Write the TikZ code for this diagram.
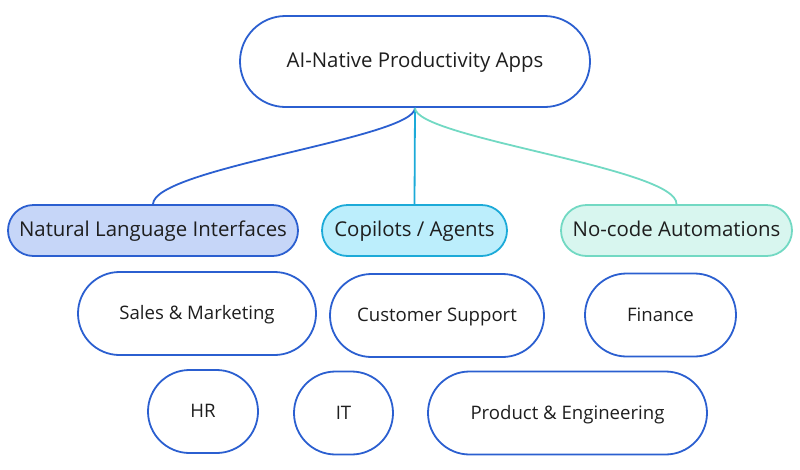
\documentclass[tikz,border=0pt]{standalone}
\usepackage{fontspec}
\setmainfont{Open Sans}
\usepackage{tikz}
\usetikzlibrary{shapes.misc}

\definecolor{bordeazul}{HTML}{2B5FD0}
\definecolor{rellenoazul}{HTML}{C6D6F8}
\definecolor{bordecian}{HTML}{1CAAD8}
\definecolor{rellenocian}{HTML}{BCEEFC}
\definecolor{bordeverde}{HTML}{72D9C3}
\definecolor{rellenoverde}{HTML}{D8F6EF}
\definecolor{texto}{HTML}{1E1E1E}

\begin{document}
\begin{tikzpicture}[
    x=1pt, y=-1pt,
    every node/.style={rounded rectangle, draw=bordeazul, line width=1.8pt, inner sep=0pt, text=texto, text height=1.35em, text depth=0.1em},
    top_node/.style={minimum width=350pt, minimum height=91pt, font=\fontsize{20.4}{23}\selectfont},
    category_node/.style={minimum height=51pt, font=\fontsize{20.4}{23}\selectfont},
    area_node/.style={minimum height=83pt, font=\fontsize{18.6}{21}\selectfont},
    edge/.style={line width=1.8pt}
]
\useasboundingbox (0,0) rectangle (800,469);

% Nodos
\node[top_node] (apps) at (415,61.5) {AI-Native Productivity Apps};

\node[category_node, fill=rellenoazul, minimum width=290pt] (nli) at (153,230.5) {Natural Language Interfaces};
\node[category_node, fill=rellenocian, draw=bordecian, minimum width=185pt] (copilots) at (414.5,230.5) {Copilots / Agents};
\node[category_node, fill=rellenoverde, draw=bordeverde, minimum width=231pt] (nocode) at (676.5,230.5) {No-code Automations};

\node[area_node, minimum width=238pt] (sales) at (197,313.5) {Sales \& Marketing};
\node[area_node, minimum width=214pt] (support) at (437,315.5) {Customer Support};
\node[area_node, minimum width=151pt] (finance) at (660.5,315) {Finance};

\node[area_node, minimum width=110pt] (hr) at (203,411.5) {HR};
\node[area_node, minimum width=99pt] (it) at (343.5,413) {IT};
\node[area_node, minimum width=279pt] (product) at (567.5,413) {Product \& Engineering};

% Conexiones
\draw[edge, bordeazul] (apps.south) .. controls (415,138) and (154,168) .. (nli.north);
\draw[edge, bordecian] (apps.south) -- (copilots.north);
\draw[edge, bordeverde] (apps.south) .. controls (415,138) and (678,168) .. (nocode.north);

\end{tikzpicture}
\end{document}
